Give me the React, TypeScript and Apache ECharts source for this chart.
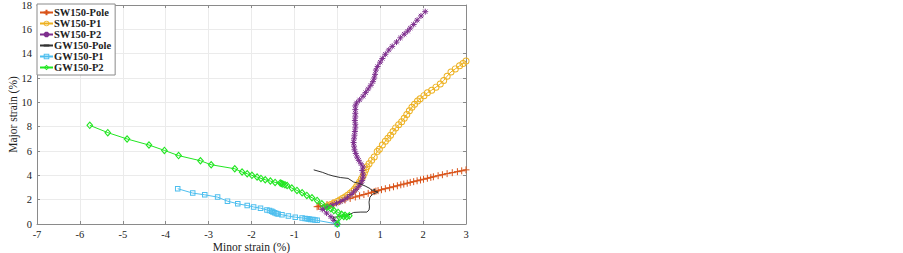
import React, { useEffect, useRef } from "react";
import * as echarts from "echarts";

// ---------- data (minor strain %, major strain %) ----------
const seriesNames = ["SW150-Pole", "SW150-P1", "SW150-P2", "GW150-Pole", "GW150-P1", "GW150-P2"];

const sw150Pole: number[][] = [
  [-0.47, 1.42], [-0.44, 1.45], [-0.4, 1.48], [-0.24, 1.6], [-0.1, 1.72], [0.05, 1.85], [0.18, 1.98],
  [0.3, 2.1], [0.42, 2.22], [0.52, 2.32], [0.62, 2.42], [0.72, 2.52], [0.8, 2.6], [0.86, 2.66],
  [0.9, 2.7], [0.95, 2.74], [1.03, 2.82], [1.12, 2.9], [1.22, 2.98], [1.31, 3.06], [1.4, 3.14],
  [1.48, 3.22], [1.55, 3.28], [1.63, 3.35], [1.7, 3.42], [1.78, 3.48], [1.86, 3.55], [1.94, 3.62],
  [2.01, 3.68], [2.1, 3.76], [2.18, 3.83], [2.24, 3.88], [2.35, 3.97], [2.45, 4.05], [2.56, 4.14],
  [2.68, 4.22], [2.8, 4.3], [2.9, 4.37], [3.0, 4.45],
];

const sw150P1: number[][] = [
  [-0.22, 1.5], [-0.15, 1.6], [-0.08, 1.72], [0, 1.85], [0.06, 1.97], [0.12, 2.1], [0.18, 2.22],
  [0.24, 2.37], [0.3, 2.52], [0.35, 2.68], [0.4, 2.85], [0.44, 3.05], [0.48, 3.25], [0.52, 3.45],
  [0.56, 3.7], [0.6, 3.95], [0.63, 4.2], [0.66, 4.45], [0.69, 4.7], [0.74, 4.95], [0.8, 5.25],
  [0.86, 5.5], [0.93, 5.95], [0.98, 6.15], [1.05, 6.5], [1.12, 6.8], [1.18, 7.05], [1.24, 7.3],
  [1.3, 7.6], [1.36, 7.9], [1.43, 8.15], [1.5, 8.4], [1.56, 8.7], [1.62, 9.0], [1.68, 9.3],
  [1.74, 9.6], [1.8, 9.85], [1.87, 10.1], [1.93, 10.3], [2.02, 10.55], [2.1, 10.78], [2.2, 11.0],
  [2.3, 11.25], [2.4, 11.5], [2.48, 11.8], [2.56, 12.15], [2.65, 12.5], [2.75, 12.75], [2.85, 13.0],
  [2.93, 13.2], [3.0, 13.4],
];

const sw150P2: number[][] = [
  [0, 0], [-0.08, 0.3], [-0.15, 0.6], [-0.25, 0.9], [-0.35, 1.2], [-0.3, 1.32], [-0.22, 1.42],
  [-0.12, 1.55], [-0.02, 1.7], [0.08, 1.85], [0.16, 2.0], [0.24, 2.2], [0.32, 2.42], [0.38, 2.62],
  [0.44, 2.85], [0.5, 3.1], [0.55, 3.35], [0.58, 3.58], [0.6, 3.85], [0.6, 4.1], [0.58, 4.4],
  [0.6, 4.68], [0.55, 4.95], [0.5, 5.23], [0.46, 5.5], [0.43, 5.8], [0.4, 6.1], [0.39, 6.4],
  [0.38, 6.7], [0.39, 7.0], [0.4, 7.3], [0.41, 7.6], [0.42, 7.9], [0.42, 8.2], [0.41, 8.5],
  [0.42, 8.8], [0.42, 9.1], [0.42, 9.4], [0.42, 9.7], [0.45, 9.95], [0.52, 10.2], [0.6, 10.5],
  [0.66, 10.8], [0.72, 11.1], [0.78, 11.4], [0.83, 11.7], [0.86, 12.0], [0.88, 12.3], [0.9, 12.65],
  [0.94, 12.95], [1.0, 13.3], [1.05, 13.6], [1.12, 13.95], [1.2, 14.3], [1.28, 14.6], [1.38, 14.95],
  [1.47, 15.3], [1.56, 15.6], [1.64, 15.85], [1.7, 16.1], [1.78, 16.4], [1.86, 16.75], [1.95, 17.1],
  [2.05, 17.45],
];

const gw150Pole: number[][] = [
  [0, 0], [-0.05, 0.3], [-0.1, 0.55], [0.05, 0.6], [0.2, 0.68], [0.3, 0.8], [0.38, 0.95],
  [0.55, 0.98], [0.69, 0.98], [0.74, 1.15], [0.75, 1.4], [0.74, 1.8], [0.76, 2.2], [0.82, 2.45],
  [0.9, 2.55], [0.95, 2.62], [0.85, 2.72], [0.88, 2.85], [0.8, 2.75], [0.77, 2.9], [0.65, 3.12],
  [0.5, 3.35], [0.38, 3.45], [0.25, 3.75], [0.07, 3.82], [-0.1, 3.95], [-0.2, 4.05], [-0.35, 4.25],
  [-0.55, 4.45],
];

const gw150P1: number[][] = [
  [0, 0], [-0.47, 0.3], [-0.52, 0.33], [-0.57, 0.36], [-0.62, 0.38], [-0.66, 0.41], [-0.7, 0.43],
  [-0.75, 0.46], [-0.82, 0.5], [-0.98, 0.56], [-1.14, 0.65], [-1.29, 0.76], [-1.38, 0.82],
  [-1.42, 0.86], [-1.46, 0.92], [-1.5, 0.98], [-1.53, 1.05], [-1.58, 1.1], [-1.64, 1.16],
  [-1.79, 1.3], [-1.95, 1.4], [-2.1, 1.52], [-2.32, 1.66], [-2.56, 1.88], [-2.79, 2.21],
  [-3.09, 2.4], [-3.37, 2.54], [-3.72, 2.9],
];

const gw150P2: number[][] = [
  [0, 0], [0.05, 0.55], [0.15, 0.62], [0.22, 0.6], [0.28, 0.68], [0.18, 0.72], [0.1, 0.8],
  [0.02, 0.95], [-0.08, 1.1], [-0.15, 1.25], [-0.24, 1.38], [-0.36, 1.66], [-0.47, 1.94],
  [-0.59, 2.16], [-0.71, 2.35], [-0.82, 2.57], [-0.94, 2.76], [-1.06, 2.95], [-1.17, 3.17],
  [-1.22, 3.22], [-1.27, 3.28], [-1.3, 3.33], [-1.33, 3.36], [-1.45, 3.42], [-1.56, 3.53],
  [-1.68, 3.64], [-1.78, 3.75], [-1.87, 3.86], [-1.99, 4.0], [-2.1, 4.13], [-2.22, 4.27],
  [-2.39, 4.54], [-2.94, 4.87], [-3.19, 5.2], [-3.7, 5.62], [-4.03, 6.05], [-4.39, 6.49],
  [-4.9, 6.99], [-5.35, 7.51], [-5.77, 8.11],
];

const xMin = -7;
const xMax = 3;
const yMin = 0;
const yMax = 18;

// ---------- styling ----------
const FONT = "Liberation Serif";
const PLUS = "path://M5,0L5,10M0,5L10,5";
const STAR = "path://M5,0L5,10M0,5L10,5M1.5,1.5L8.5,8.5M8.5,1.5L1.5,8.5";
const HLINE = "path://M0,0M0,5L10,5M10,10";
const RING =
  "path://M5,0A5,5,0,1,1,5,10A5,5,0,1,1,5,0ZM5,1.4A3.6,3.6,0,1,0,5,8.6A3.6,3.6,0,1,0,5,1.4Z";
const SQUARE_RING = "path://M0,0L10,0L10,10L0,10ZM1.8,1.8L1.8,8.2L8.2,8.2L8.2,1.8Z";
const DIAMOND_RING = "path://M5,0L10,5L5,10L0,5ZM5,2.1L2.1,5L5,7.9L7.9,5Z";

const colors = ["#D95319", "#EDB120", "#7E2F8E", "#333333", "#4DBEEE", "#22E622"];
const symbols = [PLUS, RING, STAR, HLINE, SQUARE_RING, DIAMOND_RING];
const stroked = [true, false, true, true, false, false];
const showSymbols = [true, true, true, false, true, true];
const symbolSizes: any[] = [7, 7, 6, 12, 5.5, [7, 8]];
const datasets = [sw150Pole, sw150P1, sw150P2, gw150Pole, gw150P1, gw150P2];

export default function App() {
  const ref = useRef<HTMLDivElement>(null);

  useEffect(() => {
    if (!ref.current) return;
    const chart = echarts.init(ref.current, undefined, { renderer: "svg" });

    const axisCommon = {
      type: "value" as const,
      axisLine: { show: true, onZero: false, lineStyle: { color: "#8a8a8a", width: 1 } },
      axisTick: { show: true, inside: true, length: 3, lineStyle: { color: "#8a8a8a" } },
      axisLabel: { color: "#222", fontFamily: FONT, fontSize: 10.5 },
    };

    const series = datasets.map((d, i) => ({
      name: seriesNames[i],
      type: "line",
      data: d,
      xAxisIndex: 0,
      yAxisIndex: 0,
      symbol: symbols[i],
      symbolSize: symbolSizes[i],
      showSymbol: showSymbols[i],
      lineStyle: { color: colors[i], width: 1 },
      itemStyle: stroked[i]
        ? { color: colors[i], borderColor: colors[i], borderWidth: 1 }
        : { color: colors[i], borderWidth: 0 },
      emphasis: { disabled: true },
      z: 2 + i,
    }));

    chart.setOption({
      animation: false,
      backgroundColor: "#fff",
      grid: {
        left: 37,
        right: 437,
        top: 5,
        bottom: 29,
        containLabel: false,
        outerBoundsMode: "none",
      },
      legend: {
        data: seriesNames,
        orient: "vertical",
        left: 37,
        top: 4,
        padding: [3, 4, 2, 2],
        itemWidth: 13,
        itemHeight: 7,
        itemGap: 0,
        backgroundColor: "#fff",
        borderColor: "#8a8a8a",
        borderWidth: 1,
        textStyle: {
          fontFamily: FONT,
          fontSize: 10.5,
          fontWeight: "bold",
          color: "#222",
          lineHeight: 11,
          padding: [0, 0, 0, -4],
        },
      },
      xAxis: [
        {
          ...axisCommon,
          position: "bottom",
          min: xMin,
          max: xMax,
          interval: 1,
          name: "Minor strain (%)",
          nameLocation: "middle",
          nameGap: 17,
          nameMoveOverlap: false,
          nameTextStyle: { fontFamily: FONT, fontSize: 11.5, color: "#222" },
          axisLabel: { ...axisCommon.axisLabel, margin: 5 },
          splitLine: { show: true, lineStyle: { color: "#ebebeb", width: 1 } },
        },
        {
          ...axisCommon,
          position: "top",
          min: xMin,
          max: xMax,
          interval: 1,
          axisLabel: { show: false },
          splitLine: { show: false },
        },
      ],
      yAxis: [
        {
          ...axisCommon,
          position: "left",
          min: yMin,
          max: yMax,
          interval: 2,
          name: "Major strain (%)",
          nameLocation: "middle",
          nameGap: 18,
          nameMoveOverlap: false,
          nameTextStyle: { fontFamily: FONT, fontSize: 11.5, color: "#222" },
          axisLabel: { ...axisCommon.axisLabel, margin: 5 },
          splitLine: { show: true, lineStyle: { color: "#ebebeb", width: 1 } },
        },
        {
          ...axisCommon,
          position: "right",
          min: yMin,
          max: yMax,
          interval: 2,
          axisLabel: { show: false },
          splitLine: { show: false },
        },
      ],
      series,
    });

    return () => chart.dispose();
  }, []);

  return (
    <div
      ref={ref}
      style={{ position: "fixed", left: 0, top: 0, width: 903, height: 253, background: "#fff" }}
    />
  );
}
